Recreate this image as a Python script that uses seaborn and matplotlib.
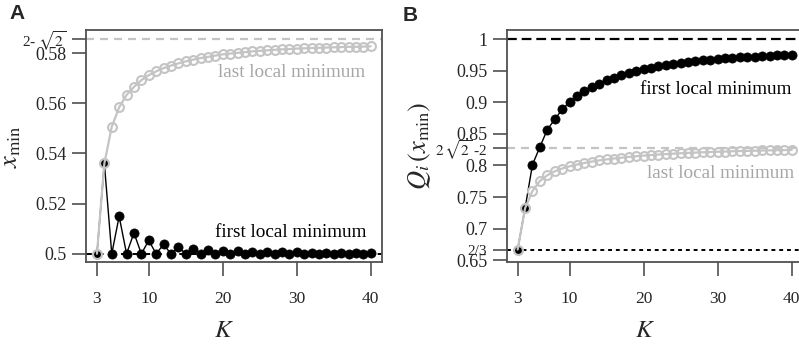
import numpy as np
import matplotlib
matplotlib.use("Agg")
import matplotlib.pyplot as plt
import seaborn as sns

# number of states K
K = np.arange(3, 41)

# panel A: position of the local minima
xmin_first = [0.5000, 0.5360, 0.5000, 0.5149, 0.5000, 0.5083, 0.5000, 0.5053,
              0.5000, 0.5037, 0.5000, 0.5027, 0.5000, 0.5021, 0.5000, 0.5016,
              0.5000, 0.5013, 0.5000, 0.5011, 0.5000, 0.5009, 0.5000, 0.5008,
              0.5000, 0.5007, 0.5000, 0.5006, 0.5000, 0.5005, 0.5000, 0.5005,
              0.5000, 0.5004, 0.5000, 0.5004, 0.5000, 0.5003]
xmin_last = [0.5000, 0.5360, 0.5506, 0.5584, 0.5633, 0.5665, 0.5692, 0.5712,
             0.5727, 0.5740, 0.5750, 0.5759, 0.5767, 0.5774, 0.5780, 0.5785,
             0.5790, 0.5795, 0.5798, 0.5801, 0.5804, 0.5807, 0.5809, 0.5811,
             0.5813, 0.5815, 0.5816, 0.5818, 0.5819, 0.5820, 0.5821, 0.5822,
             0.5823, 0.5824, 0.5825, 0.5825, 0.5826, 0.5827]

# panel B: Q_i at the local minima
q_first = [0.6667, 0.7321, 0.8014, 0.8293, 0.8570, 0.8730, 0.8890, 0.9007,
           0.9097, 0.9176, 0.9245, 0.9300, 0.9350, 0.9393, 0.9430, 0.9466,
           0.9500, 0.9528, 0.9552, 0.9574, 0.9594, 0.9612, 0.9628, 0.9643,
           0.9656, 0.9668, 0.9679, 0.9689, 0.9698, 0.9707, 0.9715, 0.9722,
           0.9729, 0.9736, 0.9742, 0.9748, 0.9753, 0.9758]
q_last = [0.6667, 0.7321, 0.7596, 0.7755, 0.7845, 0.7908, 0.7952, 0.7987,
          0.8015, 0.8040, 0.8062, 0.8081, 0.8097, 0.8111, 0.8124, 0.8136,
          0.8147, 0.8157, 0.8166, 0.8174, 0.8181, 0.8188, 0.8194, 0.8200,
          0.8205, 0.8210, 0.8214, 0.8218, 0.8222, 0.8226, 0.8229, 0.8232,
          0.8235, 0.8238, 0.8240, 0.8243, 0.8245, 0.8247]

# reference levels
a_upper = 2 - np.sqrt(2)
a_lower = 0.5
b_upper = 1.0
b_mid = 2 * np.sqrt(2) - 2
b_lower = 2 / 3

a_yticks = [0.5, 0.52, 0.54, 0.56, 0.58, a_upper]
a_ylabels = ["0.5", "0.52", "0.54", "0.56", "0.58", r"2- $\sqrt{2}$"]
b_yticks = [0.65, b_lower, 0.7, 0.75, 0.8, b_mid, 0.85, 0.9, 0.95, 1.0]
b_ylabels = ["0.65", "2/3", "0.7", "0.75", "0.8", r"$2\,\sqrt{2}$ -2",
             "0.85", "0.9", "0.95", "1"]
xticks = [3, 10, 20, 30, 40]

sns.set_style("ticks")
plt.rcParams["font.family"] = ["Liberation Serif", "DejaVu Serif"]
plt.rcParams["mathtext.fontset"] = "stix"

GREY = "#c4c4c4"
GREY_TXT = "#a6a6a6"
FRAME = "#505050"


def style_axes(ax, yticks, ylabels, small):
    ax.set_xlim(1.52, 41.48)
    ax.set_xticks(xticks)
    ax.set_xticklabels([str(t) for t in xticks], fontsize=12.5)
    ax.set_yticks(yticks)
    ax.set_yticklabels(ylabels, fontsize=13)
    for lab in ax.get_yticklabels():
        if lab.get_text() in small:
            lab.set_fontsize(11)
    for sp in ax.spines.values():
        sp.set_visible(True)
        sp.set_color(FRAME)
        sp.set_linewidth(1.3)
    ax.tick_params(axis="y", length=10, width=1.2, color=FRAME, pad=4)
    ax.tick_params(axis="x", length=10, width=1.2, color=FRAME, pad=11)
    ax.set_xlabel(r"$K$", fontsize=18)
    ax.xaxis.set_label_coords(0.467, -0.25)


def draw(ax, first, last):
    sns.lineplot(x=K, y=first, ax=ax, color="black", linewidth=1.0,
                 marker="o", markersize=6.6, markerfacecolor="black",
                 markeredgecolor="black", markeredgewidth=0.5, zorder=2)
    sns.lineplot(x=K, y=last, ax=ax, color=GREY, linewidth=1.6,
                 marker="o", markersize=6.4, markerfacecolor="none",
                 markeredgecolor=GREY, markeredgewidth=1.5, zorder=3)


fig = plt.figure(figsize=(7.99, 3.49), dpi=100)
ax_a = fig.add_axes([86 / 799, 86.7 / 349, 295.7 / 799, 232.3 / 349])
ax_b = fig.add_axes([506.7 / 799, 86.7 / 349, 296 / 799, 232.3 / 349])

# panel A
ax_a.axhline(a_upper, color=GREY, lw=1.6, dashes=(3.6, 2.7), zorder=1)
ax_a.axhline(a_lower, color="black", lw=1.4, dashes=(3, 3), zorder=1)
draw(ax_a, xmin_first, xmin_last)
ax_a.set_ylim(0.4966, 0.5892)
style_axes(ax_a, a_yticks, a_ylabels, [r"2- $\sqrt{2}$"])
ax_a.set_ylabel(r"$x_{\mathrm{min}}$", fontsize=19)
ax_a.yaxis.set_label_coords(-0.212, 0.5)
ax_a.text(39.3, 0.5721, "last local minimum", color=GREY_TXT, fontsize=13.8,
          ha="right", va="center")
ax_a.text(39.4, 0.5086, "first local minimum", color="black", fontsize=13.8,
          ha="right", va="center")

# panel B
ax_b.axhline(b_upper, color="black", lw=1.6, dashes=(4.4, 2.2), zorder=1)
ax_b.axhline(b_mid, color=GREY, lw=1.6, dashes=(3.6, 2.7), zorder=1)
ax_b.axhline(b_lower, color="black", lw=1.4, dashes=(2, 2), zorder=1)
draw(ax_b, q_first, q_last)
ax_b.set_ylim(0.6464, 1.0150)
style_axes(ax_b, b_yticks, b_ylabels, ["2/3", r"$2\,\sqrt{2}$ -2"])
ax_b.set_ylabel(r"$Q_i\,(x_{\mathrm{min}})$", fontsize=19)
ax_b.yaxis.set_label_coords(-0.25, 0.5)
ax_b.text(40.0, 0.921, "first local minimum", color="black", fontsize=13.8,
          ha="right", va="center")
ax_b.text(40.3, 0.7876, "last local minimum", color=GREY_TXT, fontsize=13.8,
          ha="right", va="center")

fig.text(0.012, 0.962, "A", fontsize=15, fontweight="bold",
         family="Liberation Sans", va="center")
fig.text(0.504, 0.955, "B", fontsize=15, fontweight="bold",
         family="Liberation Sans", va="center")

fig.savefig("out.png", dpi=100)
